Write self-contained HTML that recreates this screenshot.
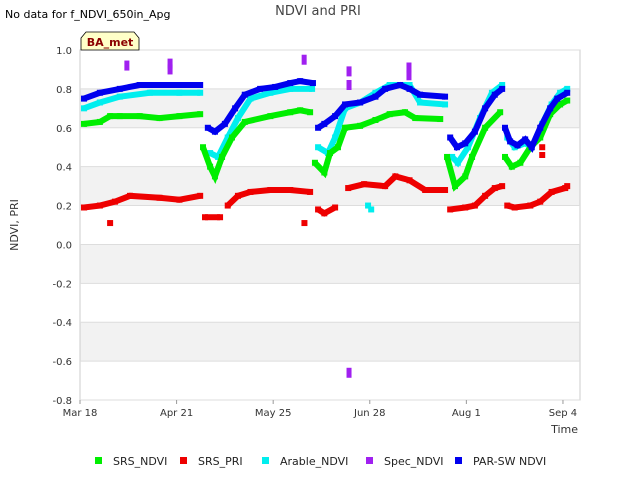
<!DOCTYPE html>
<html><head><meta charset="utf-8"><style>
body{margin:0;background:#fff;font-family:"DejaVu Sans","Liberation Sans",sans-serif;}
svg text{font-family:"DejaVu Sans","Liberation Sans",sans-serif;}
</style></head><body>
<svg id="chart" width="640" height="480" xmlns="http://www.w3.org/2000/svg">
<text x="5" y="18" font-size="11" fill="#000">No data for f_NDVI_650in_Apg</text>
<text x="318" y="15" font-size="13" fill="#444" text-anchor="middle">NDVI and PRI</text>
<g id="bands"></g>
<rect x="80" y="50" width="500" height="350" fill="none" stroke="#ccc"/>
<g id="grid"></g><g id="marks"></g><g id="axes"></g>
<g>
<path d="M81,50 L81,38 L86,32 L134,32 L139,38 L139,50 Z" fill="#ffffc8" stroke="#000" stroke-width="0.8"/>
<text x="110" y="46" font-size="11" font-weight="bold" fill="#8b0000" text-anchor="middle">BA_met</text>
</g>
<text transform="translate(18,225) rotate(-90)" font-size="11" fill="#333" text-anchor="middle">NDVI, PRI</text>
<text x="578" y="433" font-size="11" fill="#333" text-anchor="end">Time</text>
<g id="legend"></g>
</svg>
<script>
const xTickLabels=["Mar 18","Apr 21","May 25","Jun 28","Aug 1","Sep 4"];
const xTickDays=[0,34,68,102,136,170];
const yTicks=[1.0,0.8,0.6,0.4,0.2,0.0,-0.2,-0.4,-0.6,-0.8];
const seriesNames=["SRS_NDVI","SRS_PRI","Arable_NDVI","Spec_NDVI","PAR-SW NDVI"];
const seriesColors=["#00ee00","#ee0000","#00eeee","#a020f0","#0000ee"];
// day offsets and values (null breaks line)
const ndviDays=[1.4,7,10.6,14,21,28,35,42.3,null,43.3,45.8,47.5,50,53.5,58,67,74,77.5,81,null,82.7,86,88,90.8,93.3,98.6,104,109,114.4,118,126.8,null,129.2,132,135.6,138,142.6,147.9,null,149.6,152,155,158.5,162,165.5,169,171.5];
const ndviVals=[0.62,0.63,0.66,0.66,0.66,0.65,0.66,0.67,null,0.5,0.4,0.35,0.45,0.55,0.63,0.66,0.68,0.69,0.68,null,0.42,0.37,0.47,0.5,0.6,0.61,0.64,0.67,0.68,0.65,0.645,null,0.45,0.3,0.35,0.45,0.6,0.68,null,0.45,0.4,0.42,0.5,0.55,0.67,0.72,0.74];
const priDays=[1.4,7,12.3,17.6,28,35,42.3,null,44,49.3,null,52,55.6,60,67,74,81,null,83.8,86,89.8,null,94.4,100,107.4,111,116,121.5,128.5,null,130.3,135.6,139,142.6,146,148.6,null,150.4,153,158.5,162,166,170.8,171.5];
const priVals=[0.19,0.2,0.22,0.25,0.24,0.23,0.25,null,0.14,0.14,null,0.2,0.25,0.27,0.28,0.28,0.27,null,0.18,0.16,0.19,null,0.29,0.31,0.3,0.35,0.33,0.28,0.28,null,0.18,0.19,0.2,0.25,0.29,0.3,null,0.2,0.19,0.2,0.22,0.27,0.29,0.3];
const arbDays=[1.4,7,14,24.6,35,42.3,null,45.8,48.6,52,55.6,60,67,74,81.7,null,83.8,87.3,89.8,93.3,98.6,104,109,116,119.7,128.5,null,131,133,136.6,140.8,145,148.6,null,150.4,153,156.7,159,162.7,166,169,171.5];
const arbVals=[0.7,0.73,0.76,0.78,0.78,0.78,null,0.47,0.45,0.55,0.65,0.75,0.78,0.8,0.8,null,0.5,0.47,0.55,0.7,0.73,0.78,0.82,0.82,0.73,0.72,null,0.45,0.42,0.5,0.65,0.78,0.82,null,0.55,0.5,0.52,0.5,0.62,0.72,0.78,0.8];
const specDays=[16.5,31.7,31.7,78.9,94.7,94.7,94.7,115.8,115.8];
const specVals=[0.92,0.93,0.9,0.95,0.89,0.82,-0.66,0.91,0.87];
const parDays=[1.4,7,14,21,28,35,42.3,null,45,47.5,51,54.6,58,63.4,68.7,74,77.5,82,null,83.8,86,89.8,93.3,98.6,104,107.4,112.7,116,119.7,128.5,null,130.3,132.7,135.6,139,142.6,146,148.6,null,149.6,151.4,154,156.7,159,162,165.5,168,171.5];
const parVals=[0.75,0.78,0.8,0.82,0.82,0.82,0.82,null,0.6,0.58,0.62,0.7,0.77,0.8,0.81,0.83,0.84,0.83,null,0.6,0.62,0.66,0.72,0.73,0.76,0.8,0.82,0.8,0.77,0.76,null,0.55,0.5,0.52,0.58,0.7,0.77,0.8,null,0.6,0.53,0.51,0.54,0.5,0.6,0.7,0.75,0.78];
const outlierDays=[10.6,79,101.4,102.5,162.7,162.7];
const outlierVals=[0.11,0.11,0.2,0.18,0.5,0.46];
const outlierSeries=[1,1,2,2,1,1];

const NS="http://www.w3.org/2000/svg";
const X=d=>80+d*(500/176);
const Y=v=>50+(1-v)*(350/1.8);
function mk(tag,attrs,parent){const e=document.createElementNS(NS,tag);for(const k in attrs)e.setAttribute(k,attrs[k]);parent.appendChild(e);return e;}
const bands=document.getElementById('bands'),grid=document.getElementById('grid'),axes=document.getElementById('axes'),marks=document.getElementById('marks'),legend=document.getElementById('legend');
[[0.8,0.6],[0.4,0.2],[0.0,-0.2],[-0.4,-0.6]].forEach(b=>{
 const r=mk('rect',{x:80,y:Y(b[0]),width:500,height:Y(b[1])-Y(b[0]),fill:'#f2f2f2'},bands);
 
 
});
yTicks.forEach(v=>{
 const l=mk('line',{x1:80,x2:580,y1:Y(v),y2:Y(v),stroke:'#ddd'},grid);
 
 
 const t=mk('text',{x:72,y:Y(v)+4,'font-size':10,fill:'#333','text-anchor':'end'},axes);
 t.textContent=v.toFixed(1);
 
 
});
xTickDays.forEach((d,i)=>{
 mk('line',{x1:X(d),x2:X(d),y1:400,y2:404,stroke:'#999'},axes);
 const t=mk('text',{x:X(d),y:416,'font-size':10,fill:'#333','text-anchor':'middle'},axes);
 t.textContent=xTickLabels[i];
 
 
});
function drawSeries(days,vals,idx){
 const g=mk('g',{},marks);
 
 
 let seg=[];
 const flush=()=>{if(seg.length>1)mk('polyline',{points:seg.join(' '),fill:'none',stroke:seriesColors[idx],'stroke-width':6,'stroke-linejoin':'miter'},g);seg=[];};
 days.forEach((d,i)=>{
  if(d===null){flush();return;}
  seg.push(X(d)+','+Y(vals[i]));
  const r=mk('rect',{x:X(d)-3,y:Y(vals[i])-3,width:6,height:6,fill:seriesColors[idx]},g);
  
  
 });
 flush();
}
drawSeries(arbDays,arbVals,2);
drawSeries(ndviDays,ndviVals,0);
drawSeries(priDays,priVals,1);
drawSeries(parDays,parVals,4);
specDays.forEach((d,i)=>{
 const r=mk('rect',{x:X(d)-2.5,y:Y(specVals[i])-5,width:5,height:10,fill:seriesColors[3]},marks);
 
 
});
outlierDays.forEach((d,i)=>{
 const r=mk('rect',{x:X(d)-3,y:Y(outlierVals[i])-3,width:6,height:6,fill:seriesColors[outlierSeries[i]]},marks);
 
 
});
const lx=[95,180,262,366,455];
seriesNames.forEach((n,i)=>{
 const g=mk('g',{},legend);
 
 
 mk('rect',{x:lx[i],y:457,width:7,height:7,fill:seriesColors[i]},g);
 const t=mk('text',{x:lx[i]+18,y:465,'font-size':11,fill:'#222'},g);
 t.textContent=n;
});
</script>
</body></html>
